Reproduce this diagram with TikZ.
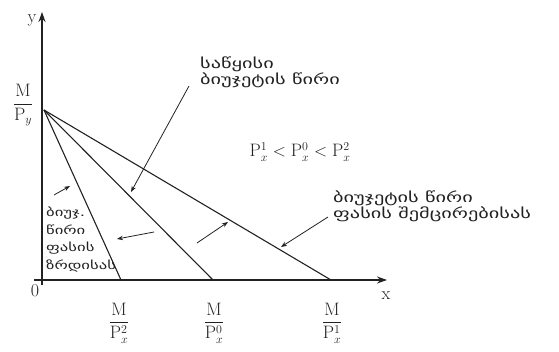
\documentclass[tikz,border=0pt]{standalone}
\usepackage{fontspec}
\usepackage{amsmath}
\usetikzlibrary{arrows.meta}
\newfontfamily\geo[FakeStretch=1.45]{DejaVu Sans}
\definecolor{colorInk}{HTML}{222222}
\def\colorInk{colorInk}

\begin{document}
\begin{tikzpicture}[x=1pt,y=-1pt,
  axe/.style={line width=1.6pt, color=\colorInk, -{Stealth[length=10pt,width=7pt]}},
  droite/.style={line width=1.1pt, color=\colorInk},
  fleche/.style={line width=0.8pt, color=\colorInk, -{Stealth[length=6pt,width=4.5pt]}},
  maths/.style={inner sep=0pt, text=\colorInk, font=\fontsize{18}{21}\selectfont},
  geotexte/.style={inner sep=0pt, align=left, text=\colorInk, font=\geo\fontsize{14}{16}\selectfont},
  geopetit/.style={inner sep=0pt, align=left, text=\colorInk, font=\geo\fontsize{11.5}{17.5}\selectfont}
  ]
\useasboundingbox (0,0) rectangle (559,352);

% Les axes
\coordinate (ybas) at (42,285);
\coordinate (yhaut) at (42,12);
\coordinate (xgauche) at (34,280);
\coordinate (xdroite) at (387,280);
\draw[axe] (ybas) -- (yhaut);
\draw[axe] (xgauche) -- (xdroite);

% Les droites de budget
\coordinate (A) at (44,110);
\coordinate (B2) at (121,280);
\coordinate (B0) at (213,280);
\coordinate (B1) at (331,280);
\draw[droite] (A) -- (B2);
\draw[droite] (A) -- (B0);
\draw[droite] (A) -- (B1);

% Les etiquettes des axes
\node[maths] (ly) at (32,20) {y};
\node[maths] (lx) at (386,296) {x};
\node[maths] (lo) at (35,291) {0};
\node[maths] (MPy) at (23,105) {$\dfrac{\mathrm{M}}{\mathrm{P}_y}$};
\node[maths] (MPx2) at (119,323) {$\dfrac{\mathrm{M}}{\mathrm{P}_x^2}$};
\node[maths] (MPx0) at (214,323) {$\dfrac{\mathrm{M}}{\mathrm{P}_x^0}$};
\node[maths] (MPx1) at (332,323) {$\dfrac{\mathrm{M}}{\mathrm{P}_x^1}$};
\node[maths] (ordre) at (300,152) {$\mathrm{P}_x^1<\mathrm{P}_x^0<\mathrm{P}_x^2$};

% Les textes
\node[geotexte, anchor=north west] (initiale) at (200,57) {საწყისი\\ბიუჯეტის წირი};
\node[geotexte, anchor=north west] (baisse) at (333,191) {ბიუჯეტის წირი\\ფასის შემცირებისას};
\node[geopetit, anchor=north west] (hausse) at (46,207) {ბიუჯ.\\წირი\\ფასის\\ზრდისას};

% Les fleches
\coordinate (f5a) at (189,86);
\coordinate (f5b) at (131,192);
\draw[fleche] (f5a) -- (f5b);
\coordinate (f1a) at (54,195);
\coordinate (f1b) at (70,186);
\draw[fleche] (f1a) -- (f1b);
\coordinate (f2a) at (154,232);
\coordinate (f2b) at (117,239);
\draw[fleche] (f2a) -- (f2b);
\coordinate (f3a) at (197,243);
\coordinate (f3b) at (228,222);
\draw[fleche] (f3a) -- (f3b);
\coordinate (f4a) at (328,217);
\coordinate (f4b) at (281,247);
\draw[fleche] (f4a) -- (f4b);

\end{tikzpicture}
\end{document}
